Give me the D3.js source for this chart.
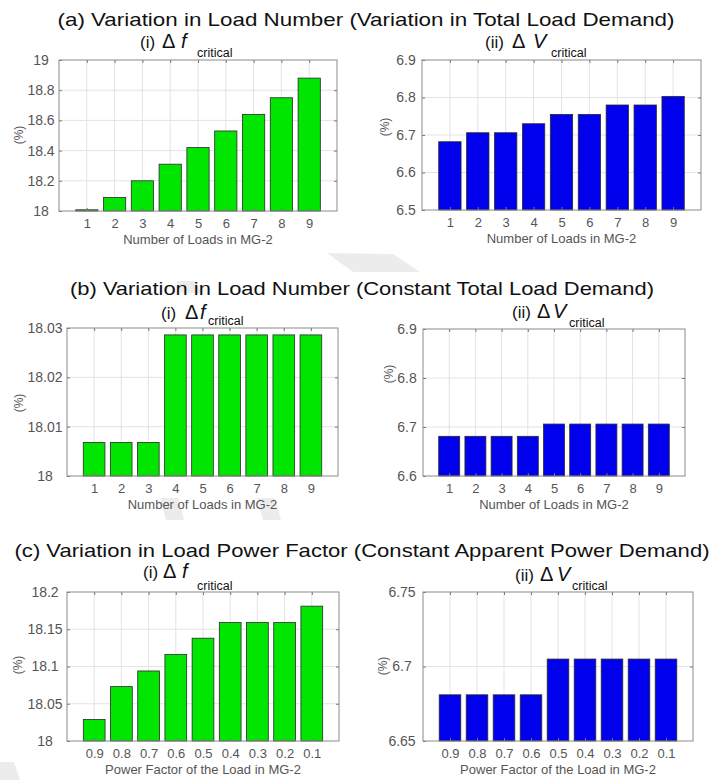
<!DOCTYPE html>
<html>
<head>
<meta charset="utf-8">
<script src="https://cdn.jsdelivr.net/npm/d3@7"></script>
<style>
  body { margin: 0; background: #fff; }
  text { font-family: "Liberation Sans", Arial, Helvetica, sans-serif; }
</style>
</head>
<body>
<svg id="chart"></svg>
<script>
/* DATA */
const loadNumbers = ["1", "2", "3", "4", "5", "6", "7", "8", "9"];
const powerFactors = ["0.9", "0.8", "0.7", "0.6", "0.5", "0.4", "0.3", "0.2", "0.1"];

// (a) variation in load number, variation in total load demand
const dfLoadVar = [18.008, 18.09, 18.2, 18.31, 18.42, 18.53, 18.64, 18.75, 18.88];
const dvLoadVar = [6.682, 6.706, 6.706, 6.73, 6.755, 6.755, 6.78, 6.78, 6.803];
// (b) variation in load number, constant total load demand
const dfLoadConst = [18.0068, 18.0068, 18.0068, 18.0286, 18.0286, 18.0286, 18.0286, 18.0286, 18.0286];
const dvLoadConst = [6.681, 6.681, 6.681, 6.681, 6.706, 6.706, 6.706, 6.706, 6.706];
// (c) variation in load power factor
const dfPf = [18.029, 18.073, 18.094, 18.116, 18.138, 18.159, 18.159, 18.159, 18.181];
const dvPf = [6.681, 6.681, 6.681, 6.681, 6.705, 6.705, 6.705, 6.705, 6.705];

// y ticks
const ticksDfA = [18, 18.2, 18.4, 18.6, 18.8, 19];
const ticksDvA = [6.5, 6.6, 6.7, 6.8, 6.9];
const ticksDfB = [18, 18.01, 18.02, 18.03];
const ticksDvB = [6.6, 6.7, 6.8, 6.9];
const ticksDfC = [18, 18.05, 18.1, 18.15, 18.2];
const ticksDvC = [6.65, 6.7, 6.75];

const mainTitles = [
  "(a) Variation in Load Number (Variation in Total Load Demand)",
  "(b) Variation in Load Number (Constant Total Load Demand)",
  "(c) Variation in Load Power Factor (Constant Apparent Power Demand)"
];

/* LAYOUT */
const width = 712, height = 780;
const green = "#00e600", blue = "#0000ec";

const titleLayout = [
  { x: 366, y: 26, w: 617 },
  { x: 362, y: 295, w: 584 },
  { x: 362, y: 557, w: 695 }
];

const panels = [
  { vals: dfLoadVar, cats: loadNumbers, ticks: ticksDfA, color: green, num: "i", sym: "f",
    xlab: "Number of Loads in MG-2", box: [59, 337, 60, 211], tickX: 41, yl: [19, 135],
    sub: { x: 140, y: 48, cy: 57, d: [22, 41, 57] } },
  { vals: dvLoadVar, cats: loadNumbers, ticks: ticksDvA, color: blue, num: "ii", sym: "V",
    xlab: "Number of Loads in MG-2", box: [422, 701, 60, 210], tickX: 406, yl: [385, 127],
    sub: { x: 485, y: 48, cy: 57, d: [27, 48, 66] } },
  { vals: dfLoadConst, cats: loadNumbers, ticks: ticksDfB, color: green, num: "i", sym: "f",
    xlab: "Number of Loads in MG-2", box: [67, 338, 328, 476], tickX: 45, yl: [19, 403],
    sub: { x: 161, y: 319, cy: 325, d: [24, 39, 47] } },
  { vals: dvLoadConst, cats: loadNumbers, ticks: ticksDvB, color: blue, num: "ii", sym: "V",
    xlab: "Number of Loads in MG-2", box: [423, 685, 329, 476], tickX: 407, yl: [389, 374],
    sub: { x: 512, y: 318, cy: 327, d: [25, 41, 57] } },
  { vals: dfPf, cats: powerFactors, ticks: ticksDfC, color: green, num: "i", sym: "f",
    xlab: "Power Factor of the Load in MG-2", box: [67, 339, 592, 741], tickX: 45, yl: [18, 665],
    sub: { x: 143, y: 578, cy: 590, d: [20, 39, 54] } },
  { vals: dvPf, cats: powerFactors, ticks: ticksDvC, color: blue, num: "ii", sym: "V",
    xlab: "Power Factor of the Load in MG-2", box: [423, 693, 592, 741], tickX: 402, yl: [383, 666],
    sub: { x: 515, y: 581, cy: 590, d: [25, 42, 57] } }
];

/* SVG */
const svg = d3.select("#chart")
  .attr("width", width)
  .attr("height", height);

svg.append("rect").attr("width", width).attr("height", height).attr("fill", "#fff");

// faint watermark strokes behind everything
const watermark = [
  [[327, 253], [393, 254], [420, 272], [353, 272]],
  [[176, 281], [196, 281], [201, 293], [181, 293]],
  [[160, 498], [178, 498], [184, 520], [166, 520]],
  [[257, 498], [275, 498], [281, 520], [263, 520]],
  [[0, 762], [14, 762], [20, 780], [0, 780]]
];
svg.append("g").selectAll("polygon")
  .data(watermark)
  .join("polygon")
  .attr("points", d => d.map(p => p.join(",")).join(" "))
  .attr("fill", "#ececec");

// main titles
svg.append("g").selectAll("text")
  .data(mainTitles)
  .join("text")
  .attr("x", (d, i) => titleLayout[i].x)
  .attr("y", (d, i) => titleLayout[i].y)
  .attr("text-anchor", "middle")
  .attr("font-size", 19)
  .attr("fill", "#111")
  .attr("textLength", (d, i) => titleLayout[i].w)
  .attr("lengthAdjust", "spacingAndGlyphs")
  .text(d => d);

panels.forEach(p => {
  const [x0, x1, y0, y1] = p.box;
  const g = svg.append("g");
  const idx = p.cats.map((c, i) => i + 1);

  const xScale = d3.scaleLinear()
    .domain([0, p.cats.length + 1])
    .range([x0, x1]);
  const yScale = d3.scaleLinear()
    .domain([p.ticks[0], p.ticks[p.ticks.length - 1]])
    .range([y1, y0]);
  const barW = xScale(0.8) - xScale(0);

  // grid
  g.append("g").selectAll("line")
    .data(p.ticks.slice(1, -1))
    .join("line")
    .attr("x1", x0).attr("x2", x1)
    .attr("y1", d => yScale(d)).attr("y2", d => yScale(d))
    .attr("stroke", "#e3e3e3");
  g.append("g").selectAll("line")
    .data(idx)
    .join("line")
    .attr("x1", d => xScale(d)).attr("x2", d => xScale(d))
    .attr("y1", y0).attr("y2", y1)
    .attr("stroke", "#e3e3e3");

  // bars
  g.append("g").selectAll("rect")
    .data(p.vals)
    .join("rect")
    .attr("x", (d, i) => xScale(i + 1) - barW / 2)
    .attr("width", barW)
    .attr("y", d => yScale(d))
    .attr("height", d => y1 - yScale(d))
    .attr("fill", p.color)
    .attr("stroke", "#2a2a2a")
    .attr("stroke-width", 0.8);

  // axes (ticks pointing inward)
  const xAxis = d3.axisBottom(xScale)
    .tickValues(idx)
    .tickFormat(d => p.cats[d - 1])
    .tickSizeInner(-3).tickSizeOuter(0).tickPadding(8);
  const gx = g.append("g")
    .attr("transform", `translate(0,${y1})`)
    .call(xAxis);
  gx.select(".domain").remove();
  gx.selectAll("text").attr("font-size", 13).attr("fill", "#555").attr("font-family", null);

  g.append("g")
    .attr("transform", `translate(0,${y0})`)
    .call(d3.axisTop(xScale).tickValues(idx).tickFormat("").tickSizeInner(-3).tickSizeOuter(0))
    .select(".domain").remove();

  const yAxis = d3.axisLeft(yScale)
    .tickValues(p.ticks)
    .tickFormat(d => String(d))
    .tickSizeInner(-3).tickSizeOuter(0);
  const gy = g.append("g")
    .attr("transform", `translate(${x0},0)`)
    .call(yAxis);
  gy.select(".domain").remove();
  gy.selectAll("text")
    .attr("x", p.tickX - x0)
    .attr("text-anchor", "middle")
    .attr("font-size", 14)
    .attr("fill", "#555")
    .attr("font-family", null);

  g.append("g")
    .attr("transform", `translate(${x1},0)`)
    .call(d3.axisRight(yScale).tickValues(p.ticks.slice(1, -1)).tickFormat("").tickSizeInner(-3).tickSizeOuter(0))
    .select(".domain").remove();

  g.selectAll(".tick line").attr("stroke", "#777");

  // box
  g.append("rect")
    .attr("x", x0).attr("y", y0)
    .attr("width", x1 - x0).attr("height", y1 - y0)
    .attr("fill", "none")
    .attr("stroke", "#8a8a8a");

  // x label
  g.append("text")
    .attr("x", (x0 + x1) / 2)
    .attr("y", y1 + 33)
    .attr("text-anchor", "middle")
    .attr("font-size", 13)
    .attr("fill", "#555")
    .text(p.xlab);

  // y label
  g.append("text")
    .attr("transform", `translate(${p.yl[0]},${p.yl[1]}) rotate(-90)`)
    .attr("text-anchor", "middle")
    .attr("dy", "0.35em")
    .attr("font-size", 12)
    .attr("fill", "#555")
    .text("(%)");

  // subplot title
  const s = p.sub;
  const t = g.append("text").attr("fill", "#111");
  t.append("tspan").attr("x", s.x).attr("y", s.y).attr("font-size", 17).text(`(${p.num})`);
  t.append("tspan").attr("x", s.x + s.d[0]).attr("y", s.y).attr("font-size", 20).text("\u0394");
  t.append("tspan").attr("x", s.x + s.d[1]).attr("y", s.y).attr("font-size", 20)
    .attr("font-style", "italic").text(p.sym);
  t.append("tspan").attr("x", s.x + s.d[2]).attr("y", s.cy).attr("font-size", 12.5).text("critical");
});
</script>
</body>
</html>
